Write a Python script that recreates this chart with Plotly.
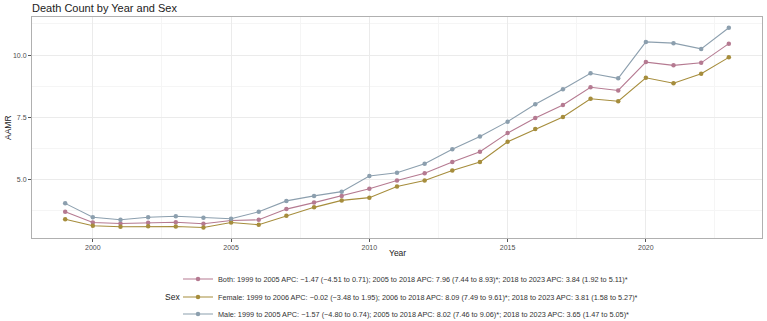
import plotly.graph_objects as go

years = list(range(1999, 2024))
both = [3.71, 3.28, 3.24, 3.27, 3.29, 3.23, 3.36, 3.39, 3.82, 4.08, 4.35, 4.64, 4.97, 5.26,
        5.71, 6.12, 6.87, 7.48, 8.00, 8.71, 8.58, 9.72, 9.59, 9.69, 10.46]
female = [3.41, 3.15, 3.11, 3.13, 3.12, 3.08, 3.28, 3.19, 3.55, 3.89, 4.17, 4.28, 4.73, 4.97,
          5.37, 5.71, 6.52, 7.03, 7.52, 8.25, 8.15, 9.09, 8.87, 9.25, 9.91]
male = [4.05, 3.49, 3.39, 3.49, 3.53, 3.47, 3.43, 3.71, 4.15, 4.35, 4.52, 5.15, 5.28, 5.64,
        6.22, 6.73, 7.33, 8.03, 8.63, 9.27, 9.07, 10.53, 10.48, 10.25, 11.10]

labels = [
    "Both: 1999 to 2005 APC: \u22121.47 (\u22124.51 to 0.71); 2005 to 2018 APC: 7.96 (7.44 to 8.93)*; 2018 to 2023 APC: 3.84 (1.92 to 5.11)*",
    "Female: 1999 to 2006 APC: \u22120.02 (\u22123.48 to 1.95); 2006 to 2018 APC: 8.09 (7.49 to 9.61)*; 2018 to 2023 APC: 3.81 (1.58 to 5.27)*",
    "Male: 1999 to 2005 APC: \u22121.57 (\u22124.80 to 0.74); 2005 to 2018 APC: 8.02 (7.46 to 9.06)*; 2018 to 2023 APC: 3.65 (1.47 to 5.05)*",
]
colors = ["#B57A91", "#A68D3C", "#8C9FAE"]
series = [both, female, male]
legend_ids = ["legend", "legend2", "legend3"]
legend_rows = [279, 297, 314]

W, H = 767, 321
fig = go.Figure()
for vals, lab, col, lid in zip(series, labels, colors, legend_ids):
    fig.add_trace(go.Scatter(
        x=years, y=vals, mode="lines+markers", name=lab, legend=lid,
        line=dict(color=col, width=1.1),
        marker=dict(color=col, size=4.5),
    ))

font = "Liberation Sans, Arial, sans-serif"
leg_common = dict(orientation="v", xref="container", yref="container",
                  x=178 / W, xanchor="left", yanchor="middle",
                  font=dict(size=7.3, color="#333333"), bgcolor="rgba(0,0,0,0)",
                  itemwidth=30)
layout_legends = {}
for lid, row in zip(legend_ids, legend_rows):
    layout_legends[lid] = dict(leg_common, y=1 - row / H)

fig.update_layout(
    width=W, height=H,
    margin=dict(l=32, r=5, t=17, b=83, autoexpand=False),
    paper_bgcolor="white", plot_bgcolor="white",
    font=dict(family=font, size=8, color="#333333"),
    title=dict(text="Death Count by Year and Sex", x=32 / W, xanchor="left",
               yref="container", y=1 - 8 / H, yanchor="middle",
               font=dict(size=11, color="#222222")),
    showlegend=True,
    annotations=[
        dict(text="Sex", xref="paper", yref="paper", x=(172 - 32) / 730,
             y=(238 - 297) / 221, xanchor="center", yanchor="middle",
             showarrow=False, font=dict(size=8.5, color="#222222")),
        dict(text="AAMR", xref="paper", yref="paper", x=(8 - 32) / 730,
             y=(238 - 128) / 221, xanchor="center", yanchor="middle", textangle=-90,
             showarrow=False, font=dict(size=8.5, color="#222222")),
        dict(text="Year", xref="paper", yref="paper", x=(397 - 32) / 730,
             y=(238 - 253) / 221, xanchor="center", yanchor="middle",
             showarrow=False, font=dict(size=8.5, color="#222222")),
    ],
    **layout_legends,
)
fig.update_xaxes(
    range=[1997.8, 2024.2], tickvals=[2000, 2005, 2010, 2015, 2020],
    showgrid=True, gridcolor="#EBEBEB", gridwidth=0.8,
    minor=dict(tickvals=[1997.5, 2002.5, 2007.5, 2012.5, 2017.5, 2022.5], showgrid=True,
               gridcolor="#F5F5F5", gridwidth=0.5, ticks=""),
    ticks="outside", ticklen=3, tickcolor="#555555", tickwidth=0.8,
    tickfont=dict(size=7, color="#4D4D4D"),
    showline=True, linecolor="#B0B0B0", linewidth=1, mirror=True, zeroline=False,
)
fig.update_yaxes(
    range=[2.66, 11.53], tickvals=[5.0, 7.5, 10.0], tickformat=".1f",
    showgrid=True, gridcolor="#EBEBEB", gridwidth=0.8,
    minor=dict(tickvals=[3.75, 6.25, 8.75, 11.25], showgrid=True,
               gridcolor="#F5F5F5", gridwidth=0.5, ticks=""),
    ticks="outside", ticklen=3, tickcolor="#555555", tickwidth=0.8,
    tickfont=dict(size=7, color="#4D4D4D"),
    showline=True, linecolor="#B0B0B0", linewidth=1, mirror=True, zeroline=False,
)

fig.write_html("out.html")
